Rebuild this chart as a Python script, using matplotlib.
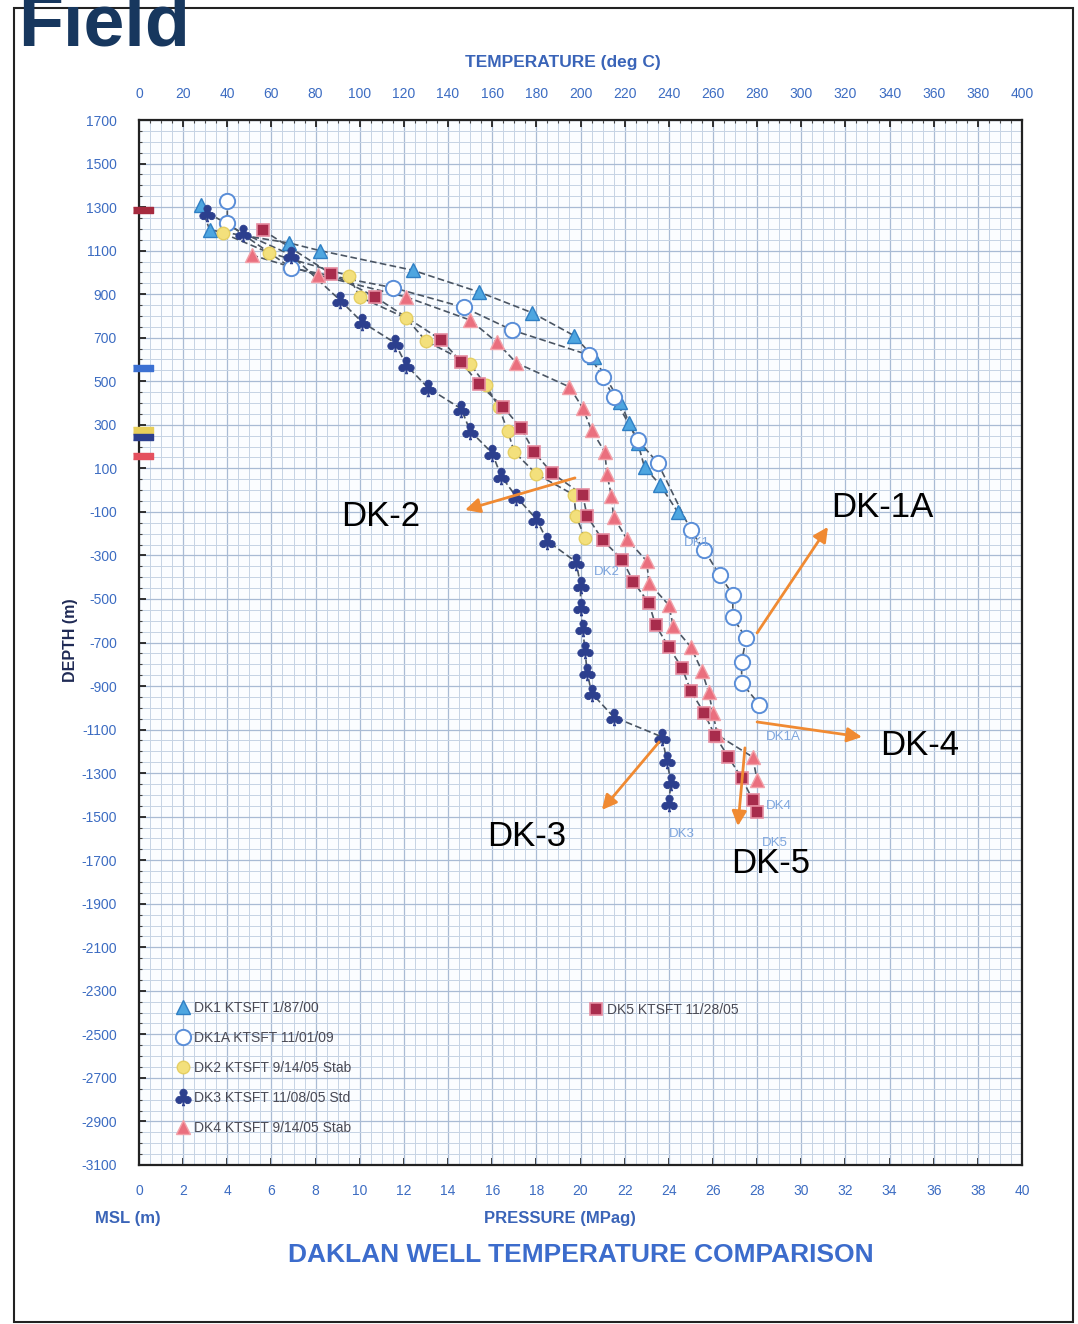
import matplotlib
matplotlib.use('Agg')
import matplotlib.pyplot as plt
from matplotlib.ticker import MultipleLocator, FixedLocator
from matplotlib.patches import Rectangle
from matplotlib.lines import Line2D

plt.rcParams['font.family'] = ['Liberation Sans', 'DejaVu Sans']

# ---------------- data (temperature degC, depth m MSL) ----------------
dk1_temp = [28, 32, 68, 82, 124, 154, 178, 197, 206, 218, 222, 226, 229, 236, 244]
dk1_depth = [1310, 1195, 1135, 1100, 1010, 910, 815, 710, 610, 405, 310, 215, 105, 25, -100]

dk1a_temp = [40, 40, 69, 115, 147, 169, 204, 210, 215, 226, 235, 250, 256, 263, 269, 269, 275, 273, 273, 281]
dk1a_depth = [1330, 1225, 1020, 930, 840, 735, 620, 520, 428, 230, 125, -185, -275, -390, -480, -585, -680, -790, -885, -985]

dk2_temp = [38, 59, 95, 100, 121, 130, 150, 157, 163, 167, 170, 180, 197, 198, 202]
dk2_depth = [1180, 1090, 985, 887, 790, 685, 580, 483, 382, 272, 175, 74, -22, -119, -220]

dk3_temp = [31, 47, 69, 91, 101, 116, 121, 131, 146, 150, 160, 164, 171, 180, 185, 198, 200, 200,
            201, 202, 203, 205, 215, 237, 239, 241, 240]
dk3_depth = [1275, 1180, 1080, 873, 772, 676, 575, 469, 373, 272, 170, 65, -32, -133, -234, -330, -436, -537,
             -633, -734, -835, -932, -1042, -1134, -1240, -1341, -1437]

dk4_temp = [51, 81, 121, 150, 162, 171, 195, 201, 205, 211, 212, 214, 215, 221, 230, 231, 240, 242,
            250, 255, 258, 260, 262, 278, 280]
dk4_depth = [1080, 988, 887, 781, 680, 584, 474, 377, 276, 175, 74, -27, -124, -225, -326, -427, -528, -624,
             -721, -831, -927, -1024, -1125, -1226, -1332]

dk5_temp = [56, 87, 107, 137, 146, 154, 165, 173, 179, 187, 201, 203, 210, 219, 224, 231, 234, 240,
            246, 250, 256, 261, 267, 273, 278, 280]
dk5_depth = [1195, 993, 887, 689, 588, 487, 382, 285, 175, 79, -22, -119, -229, -321, -422, -519, -620, -721,
             -817, -923, -1024, -1129, -1226, -1322, -1423, -1478]

legend_labels = ["DK1 KTSFT 1/87/00", "DK1A KTSFT 11/01/09", "DK2 KTSFT 9/14/05 Stab",
                 "DK3 KTSFT 11/08/05 Std", "DK4 KTSFT 9/14/05 Stab", "DK5 KTSFT 11/28/05"]

# wellhead elevation markers on the depth axis
wellhead_names = ["DK5", "DK1", "DK2", "DK3", "DK4"]
wellhead_elev = [1287, 561, 276, 244, 157]

temp_ticks = list(range(0, 401, 20))
depth_ticks = list(range(1700, -3101, -200))
pressure_ticks = list(range(0, 41, 2))

# ---------------- styling ----------------
W, H = 1078, 1324
fig = plt.figure(figsize=(W / 100, H / 100), dpi=100)
fig.patch.set_facecolor('white')

ax = fig.add_axes([139 / W, 1 - 1165 / H, (1022 - 139) / W, (1165 - 120) / H])
ax.set_xlim(0, 400)
ax.set_ylim(-3100, 1700)
ax.set_facecolor('#fbfdff')

# grid
ax.xaxis.set_minor_locator(MultipleLocator(5))
ax.yaxis.set_minor_locator(MultipleLocator(50))
ax.grid(which='minor', color='#c6d3e4', lw=0.7)
ax.grid(which='major', color='#a9bbd4', lw=0.9)
ax.set_axisbelow(True)

tick_blue = '#3c6cc2'
ax.xaxis.set_major_locator(FixedLocator(temp_ticks))
ax.yaxis.set_major_locator(FixedLocator(depth_ticks))
ax.xaxis.tick_top()
ax.tick_params(axis='x', which='major', direction='in', length=5, width=1.3, color='#222',
               labelsize=10, labelcolor=tick_blue, pad=14)
ax.tick_params(axis='y', which='major', direction='in', length=5, width=1.3, color='#222',
               labelsize=10, labelcolor=tick_blue, pad=16)
ax.tick_params(which='minor', direction='in', length=2.5, width=0.8, color='#444')
ax.set_yticklabels([str(d) for d in depth_ticks])
for s in ax.spines.values():
    s.set_color('#222')
    s.set_linewidth(1.6)

sec = ax.secondary_xaxis('bottom', functions=(lambda t: t / 10.0, lambda p: p * 10.0))
sec.xaxis.set_major_locator(FixedLocator(pressure_ticks))
sec.tick_params(direction='in', length=5, width=1.3, color='#222', labelsize=10,
                labelcolor=tick_blue, pad=14)
sec.spines['bottom'].set_visible(False)

line_kw = dict(color='#4a5563', lw=1.2, ls=(0, (4, 2)), zorder=3)

series = [
    (dk1_temp, dk1_depth, dict(marker='^', ms=10, mfc='#4ea6e0', mec='#2f7fc4', mew=1.0)),
    (dk1a_temp, dk1a_depth, dict(marker='o', ms=11, mfc='white', mec='#5a8ed8', mew=1.4)),
    (dk2_temp, dk2_depth, dict(marker='o', ms=9, mfc='#f3e07c', mec='#e6cf62', mew=1.0)),
    (dk3_temp, dk3_depth, dict(marker='$\u2663$', ms=12, mfc='#2c3f8e', mec='#2c3f8e', mew=0.6)),
    (dk4_temp, dk4_depth, dict(marker='^', ms=10, mfc='#ea6f7e', mec='#f2a0a8', mew=1.0)),
    (dk5_temp, dk5_depth, dict(marker='s', ms=9, mfc='#a82c4c', mec='#e58ca0', mew=1.2)),
]
handles = []
for (t, d, mk), lab in zip(series, legend_labels):
    ax.plot(t, d, **line_kw)
    ax.plot(t, d, ls='none', zorder=4, **mk)
    handles.append(Line2D([], [], ls='none', label=lab, **mk))

# wellhead markers
rect_marker = [(-1.4, -0.5), (1.4, -0.5), (1.4, 0.5), (-1.4, 0.5)]
wh_colors = ['#a52a3e', '#3b70d2', '#e8cf5a', '#2c3f8e', '#e4505e']
for name, elev, c in zip(wellhead_names, wellhead_elev, wh_colors):
    ax.plot([2], [elev], marker=rect_marker, ms=14, color=c, ls='none', clip_on=False, zorder=6)

# legends
leg1 = ax.legend(handles=handles[:5], loc='lower left', bbox_to_anchor=(0.032, 0.022),
                 frameon=False, fontsize=10, labelspacing=1.15, handletextpad=0.2,
                 handlelength=1.2, borderpad=0)
for txt in leg1.get_texts():
    txt.set_color('#4a4a55')
ax.add_artist(leg1)
leg2 = ax.legend(handles=handles[5:], loc='center left', bbox_to_anchor=(0.5, 0.148),
                 frameon=False, fontsize=10, handletextpad=0.2, handlelength=1.2, borderpad=0)
for txt in leg2.get_texts():
    txt.set_color('#4a4a55')

# small in-plot well labels
small_lbl = dict(color='#7ea6de', fontsize=9.5, ha='left', va='center', zorder=5)
ax.text(247, -243, 'DK1', **small_lbl)
ax.text(206, -376, 'DK2', **small_lbl)
ax.text(284, -1134, 'DK1A', **small_lbl)
ax.text(240, -1579, 'DK3', **small_lbl)
ax.text(284, -1451, 'DK4', **small_lbl)
ax.text(282, -1621, 'DK5', **small_lbl)

# orange callouts
orange = '#f08a32'
arrow = dict(arrowstyle='-|>', color=orange, lw=2, mutation_scale=22, shrinkA=0, shrinkB=0)
call_kw = dict(fontsize=25, color='black', ha='center', va='center', zorder=8)
ax.annotate('', xy=(147.7, -91), xytext=(197.5, 56), arrowprops=arrow, zorder=7)
ax.text(109.6, -123, 'DK-2', **call_kw)
ax.annotate('', xy=(312.1, -169), xytext=(280, -656), arrowprops=arrow, zorder=7)
ax.text(336.6, -78, 'DK-1A', **call_kw)
ax.annotate('', xy=(327.5, -1134), xytext=(280, -1065), arrowprops=arrow, zorder=7)
ax.text(353.8, -1171, 'DK-4', **call_kw)
ax.annotate('', xy=(209.7, -1469), xytext=(235.6, -1157), arrowprops=arrow, zorder=7)
ax.text(175.8, -1593, 'DK-3', **call_kw)
ax.annotate('', xy=(271.3, -1543), xytext=(274.5, -1184), arrowprops=arrow, zorder=7)
ax.text(286.3, -1717, 'DK-5', **call_kw)

# page border
fig.patches.append(Rectangle((14 / W, 1 - 1322 / H), (1073 - 14) / W, (1322 - 8) / H,
                             transform=fig.transFigure, fill=False, ec='#222', lw=1.5))

# figure texts
lab_blue = '#3a64b8'
fig.text(563 / W, 1 - 62 / H, 'TEMPERATURE (deg C)', color=lab_blue, fontsize=12.5,
         fontweight='bold', ha='center', va='center')
fig.text(70 / W, 1 - 640 / H, 'DEPTH (m)', color='#1f2a55', fontsize=11.5, fontweight='bold',
         rotation=90, ha='center', va='center')
fig.text(128 / W, 1 - 1219 / H, 'MSL (m)', color=lab_blue, fontsize=12, fontweight='bold',
         ha='center', va='center')
fig.text(560 / W, 1 - 1219 / H, 'PRESSURE (MPag)', color=lab_blue, fontsize=12, fontweight='bold',
         ha='center', va='center')
fig.text(581 / W, 1 - 1255 / H, 'DAKLAN WELL TEMPERATURE COMPARISON', color='#3c6ccc',
         fontsize=19, fontweight='bold', ha='center', va='center')
fig.text(18 / W, 1 - 45 / H, 'Field', color='#17375e', fontsize=53, fontweight='bold',
         ha='left', va='baseline')

fig.savefig('out.png', dpi=100, facecolor='white')
